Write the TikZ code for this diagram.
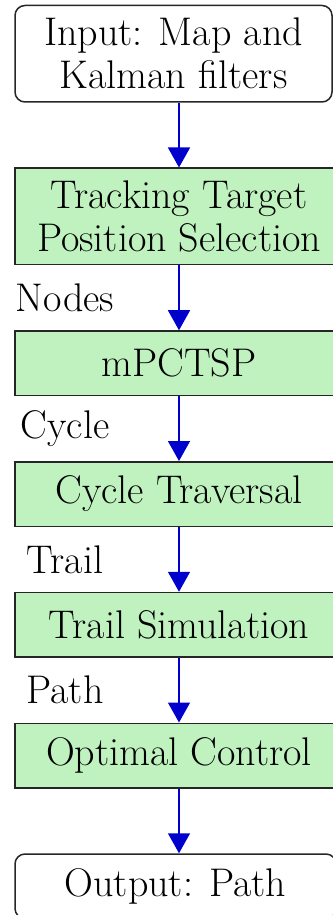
\documentclass[tikz,border=0pt]{standalone}
\usetikzlibrary{positioning,arrows.meta}
\definecolor{boxgreen}{RGB}{192,242,192}
\definecolor{flowblue}{RGB}{0,0,204}
\newcommand{\boxfont}{\fontsize{16pt}{17.2pt}\selectfont}
\tikzset{
  stage/.style={draw=black!85, semithick, fill=boxgreen, minimum width=131.2pt, minimum height=25.8pt, align=center, font=\boxfont, inner sep=2pt},
  iobox/.style={draw=black!85, semithick, rounded corners=4pt, minimum height=25.8pt, align=center, font=\boxfont, inner sep=2pt},
  flow/.style={flowblue, semithick, -{Triangle[width=8.8pt,length=8pt]}},
  flowlabel/.style={midway, xshift=-45.6pt, font=\boxfont, text=black}
}
\begin{document}
\begin{tikzpicture}[node distance=25.9pt]
    \useasboundingbox (0,0) rectangle (133.2pt,-366pt);

    % Pipeline stages, stacked top to bottom
    \node[stage, minimum height=38.6pt] (track) at (71.6pt,-86.6pt) {Tracking Target\\Position Selection};
    \node[stage, below=of track] (mpctsp) {mPCTSP};
    \node[stage, below=of mpctsp] (traverse) {Cycle Traversal};
    \node[stage, below=of traverse] (trailsim) {Trail Simulation};
    \node[stage, below=of trailsim] (optctrl) {Optimal Control};

    % Input and output
    \node[iobox, minimum width=126.8pt, minimum height=38.6pt, above=of track.north west, anchor=south west] (input) {Input: Map and\\Kalman filters};
    \node[iobox, minimum width=128.4pt, below=of optctrl.south west, anchor=north west] (output) {Output: Path};

    % Arrows
    \draw[flow] (input.south -| track.north) -- (track.north);
    \draw[flow] (track) -- node[flowlabel] {Nodes} (mpctsp);
    \draw[flow] (mpctsp) -- node[flowlabel] {Cycle} (traverse);
    \draw[flow] (traverse) -- node[flowlabel] {Trail} (trailsim);
    \draw[flow] (trailsim) -- node[flowlabel] {Path} (optctrl);
    \draw[flow] (optctrl) -- (output.north -| optctrl.south);
\end{tikzpicture}
\end{document}
